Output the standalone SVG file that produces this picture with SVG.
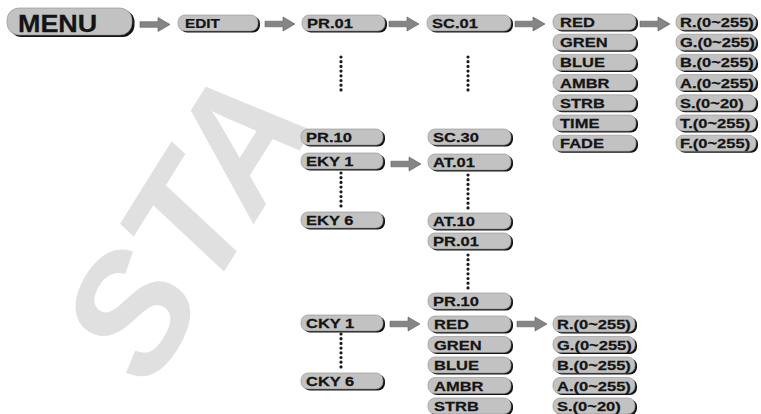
<svg xmlns="http://www.w3.org/2000/svg" xmlns:xlink="http://www.w3.org/1999/xlink" width="761" height="414" viewBox="0 0 761 414">
<style>
.bg{fill:#c2c2c2;stroke:#8e8e8e;stroke-width:0.6}
.sh{fill:#141414}
.t{font-family:"Liberation Sans",Arial,sans-serif;font-weight:bold;font-size:13px;fill:#141414;stroke:#141414;stroke-width:0.25}
.dots{stroke:#1a1a1a;stroke-width:3.2;stroke-linecap:round;stroke-dasharray:0 4.7;fill:none}
.arr{fill:#858585;stroke:#5a5a5a;stroke-width:0.6}
.wm{font-family:"Liberation Sans",Arial,sans-serif;font-weight:bold;font-style:italic;font-size:165px;fill:#e0e0e0}
</style>
<defs>
<path id="arrow" class="arr" d="M0,-2.8 H18 V-7 L30,0 L18,7 V2.8 H0 Z"/>
</defs>
<rect width="761" height="414" fill="#ffffff"/>
<text class="wm" transform="translate(150 390) rotate(-58)">STA</text>

<g id="connectors">
<use xlink:href="#arrow" x="140" y="24.5"/>
<use xlink:href="#arrow" x="265" y="24"/>
<use xlink:href="#arrow" x="389" y="24"/>
<use xlink:href="#arrow" x="515" y="24"/>
<use xlink:href="#arrow" x="640" y="24"/>
<use xlink:href="#arrow" x="391" y="164"/>
<use xlink:href="#arrow" x="390" y="324"/>
<use xlink:href="#arrow" x="517" y="324"/>
<path class="dots" d="M341,57V90 M468,57V90 M341,173V207 M468,175V209 M468,255V290 M341,334V369"/>
</g>

<g id="menu"><rect class="sh" x="9.5" y="10" width="125" height="27" rx="12"/><rect class="bg" x="7" y="8" width="125" height="27" rx="12"/><text class="t" style="font-size:23px" transform="translate(18 32) scale(1.17 1)">MENU</text></g>
<g id="edit"><rect class="sh" x="180" y="16.5" width="80" height="16" rx="7"/><rect class="bg" x="178" y="15" width="80" height="16" rx="7"/><text class="t" transform="translate(185 28) scale(1.18 1)">EDIT</text></g>
<g id="pr01"><rect class="sh" x="304" y="16.5" width="83" height="16" rx="7"/><rect class="bg" x="302" y="15" width="83" height="16" rx="7"/><text class="t" transform="translate(307 28) scale(1.27 1)">PR.01</text></g>
<g id="sc01"><rect class="sh" x="429" y="16.5" width="84" height="16" rx="7"/><rect class="bg" x="427" y="15" width="84" height="16" rx="7"/><text class="t" transform="translate(432 28) scale(1.27 1)">SC.01</text></g>

<g id="red1"><rect class="sh" x="555" y="15.5" width="83" height="16" rx="7"/><rect class="bg" x="553" y="14" width="83" height="16" rx="7"/><text class="t" transform="translate(560 27) scale(1.27 1)">RED</text></g>
<g id="gren1"><rect class="sh" x="555" y="35.7" width="83" height="16" rx="7"/><rect class="bg" x="553" y="34.2" width="83" height="16" rx="7"/><text class="t" transform="translate(560 47.2) scale(1.27 1)">GREN</text></g>
<g id="blue1"><rect class="sh" x="555" y="55.9" width="83" height="16" rx="7"/><rect class="bg" x="553" y="54.4" width="83" height="16" rx="7"/><text class="t" transform="translate(560 67.4) scale(1.27 1)">BLUE</text></g>
<g id="ambr1"><rect class="sh" x="555" y="76.1" width="83" height="16" rx="7"/><rect class="bg" x="553" y="74.6" width="83" height="16" rx="7"/><text class="t" transform="translate(560 87.6) scale(1.27 1)">AMBR</text></g>
<g id="strb1"><rect class="sh" x="555" y="96.3" width="83" height="16" rx="7"/><rect class="bg" x="553" y="94.8" width="83" height="16" rx="7"/><text class="t" transform="translate(560 107.8) scale(1.27 1)">STRB</text></g>
<g id="time1"><rect class="sh" x="555" y="116.5" width="83" height="16" rx="7"/><rect class="bg" x="553" y="115" width="83" height="16" rx="7"/><text class="t" transform="translate(560 128) scale(1.27 1)">TIME</text></g>
<g id="fade1"><rect class="sh" x="555" y="136.7" width="83" height="16" rx="7"/><rect class="bg" x="553" y="135.2" width="83" height="16" rx="7"/><text class="t" transform="translate(560 148.2) scale(1.27 1)">FADE</text></g>

<g id="rval1"><rect class="sh" x="678" y="15.5" width="80" height="16" rx="7"/><rect class="bg" x="676" y="14" width="80" height="16" rx="7"/><text class="t" transform="translate(680 27) scale(1.27 1)">R.(0~255)</text></g>
<g id="gval1"><rect class="sh" x="678" y="35.7" width="80" height="16" rx="7"/><rect class="bg" x="676" y="34.2" width="80" height="16" rx="7"/><text class="t" transform="translate(680 47.2) scale(1.27 1)">G.(0~255)</text></g>
<g id="bval1"><rect class="sh" x="678" y="55.9" width="80" height="16" rx="7"/><rect class="bg" x="676" y="54.4" width="80" height="16" rx="7"/><text class="t" transform="translate(680 67.4) scale(1.27 1)">B.(0~255)</text></g>
<g id="aval1"><rect class="sh" x="678" y="76.1" width="80" height="16" rx="7"/><rect class="bg" x="676" y="74.6" width="80" height="16" rx="7"/><text class="t" transform="translate(680 87.6) scale(1.27 1)">A.(0~255)</text></g>
<g id="sval1"><rect class="sh" x="678" y="96.3" width="80" height="16" rx="7"/><rect class="bg" x="676" y="94.8" width="80" height="16" rx="7"/><text class="t" transform="translate(680 107.8) scale(1.27 1)">S.(0~20)</text></g>
<g id="tval1"><rect class="sh" x="678" y="116.5" width="80" height="16" rx="7"/><rect class="bg" x="676" y="115" width="80" height="16" rx="7"/><text class="t" transform="translate(680 128) scale(1.27 1)">T.(0~255)</text></g>
<g id="fval1"><rect class="sh" x="678" y="136.7" width="80" height="16" rx="7"/><rect class="bg" x="676" y="135.2" width="80" height="16" rx="7"/><text class="t" transform="translate(680 148.2) scale(1.27 1)">F.(0~255)</text></g>

<g id="pr10a"><rect class="sh" x="303" y="130.5" width="82" height="16" rx="7"/><rect class="bg" x="301" y="129" width="82" height="16" rx="7"/><text class="t" transform="translate(306 142) scale(1.27 1)">PR.10</text></g>
<g id="eky1"><rect class="sh" x="303" y="154.5" width="82" height="16" rx="7"/><rect class="bg" x="301" y="153" width="82" height="16" rx="7"/><text class="t" transform="translate(306 166) scale(1.27 1)">EKY 1</text></g>
<g id="eky6"><rect class="sh" x="303" y="213.5" width="82" height="16" rx="7"/><rect class="bg" x="301" y="212" width="82" height="16" rx="7"/><text class="t" transform="translate(306 225) scale(1.27 1)">EKY 6</text></g>
<g id="cky1"><rect class="sh" x="303" y="316.5" width="82" height="16" rx="7"/><rect class="bg" x="301" y="315" width="82" height="16" rx="7"/><text class="t" transform="translate(306 328) scale(1.27 1)">CKY 1</text></g>
<g id="cky6"><rect class="sh" x="303" y="374.5" width="82" height="16" rx="7"/><rect class="bg" x="301" y="373" width="82" height="16" rx="7"/><text class="t" transform="translate(306 386) scale(1.27 1)">CKY 6</text></g>

<g id="sc30"><rect class="sh" x="430" y="130.5" width="83" height="16" rx="7"/><rect class="bg" x="428" y="129" width="83" height="16" rx="7"/><text class="t" transform="translate(433 142) scale(1.27 1)">SC.30</text></g>
<g id="at01"><rect class="sh" x="430" y="155.5" width="83" height="16" rx="7"/><rect class="bg" x="428" y="154" width="83" height="16" rx="7"/><text class="t" transform="translate(433 167) scale(1.27 1)">AT.01</text></g>
<g id="at10"><rect class="sh" x="430" y="214.5" width="83" height="16" rx="7"/><rect class="bg" x="428" y="213" width="83" height="16" rx="7"/><text class="t" transform="translate(433 226) scale(1.27 1)">AT.10</text></g>
<g id="pr01b"><rect class="sh" x="430" y="234.5" width="83" height="16" rx="7"/><rect class="bg" x="428" y="233" width="83" height="16" rx="7"/><text class="t" transform="translate(433 246) scale(1.27 1)">PR.01</text></g>
<g id="pr10b"><rect class="sh" x="430" y="294.5" width="83" height="16" rx="7"/><rect class="bg" x="428" y="293" width="83" height="16" rx="7"/><text class="t" transform="translate(433 306) scale(1.27 1)">PR.10</text></g>
<g id="red2"><rect class="sh" x="430" y="317.5" width="83" height="16" rx="7"/><rect class="bg" x="428" y="316" width="83" height="16" rx="7"/><text class="t" transform="translate(434 329) scale(1.27 1)">RED</text></g>
<g id="gren2"><rect class="sh" x="430" y="338" width="83" height="16" rx="7"/><rect class="bg" x="428" y="336.5" width="83" height="16" rx="7"/><text class="t" transform="translate(434 349.5) scale(1.27 1)">GREN</text></g>
<g id="blue2"><rect class="sh" x="430" y="358.5" width="83" height="16" rx="7"/><rect class="bg" x="428" y="357" width="83" height="16" rx="7"/><text class="t" transform="translate(434 370) scale(1.27 1)">BLUE</text></g>
<g id="ambr2"><rect class="sh" x="430" y="379" width="83" height="16" rx="7"/><rect class="bg" x="428" y="377.5" width="83" height="16" rx="7"/><text class="t" transform="translate(434 390.5) scale(1.27 1)">AMBR</text></g>
<g id="strb2"><rect class="sh" x="430" y="399.5" width="83" height="16" rx="7"/><rect class="bg" x="428" y="398" width="83" height="16" rx="7"/><text class="t" transform="translate(434 411) scale(1.27 1)">STRB</text></g>

<g id="rval2"><rect class="sh" x="555" y="317.5" width="82" height="16" rx="7"/><rect class="bg" x="553" y="316" width="82" height="16" rx="7"/><text class="t" transform="translate(557 329) scale(1.27 1)">R.(0~255)</text></g>
<g id="gval2"><rect class="sh" x="555" y="338" width="82" height="16" rx="7"/><rect class="bg" x="553" y="336.5" width="82" height="16" rx="7"/><text class="t" transform="translate(557 349.5) scale(1.27 1)">G.(0~255)</text></g>
<g id="bval2"><rect class="sh" x="555" y="358.5" width="82" height="16" rx="7"/><rect class="bg" x="553" y="357" width="82" height="16" rx="7"/><text class="t" transform="translate(557 370) scale(1.27 1)">B.(0~255)</text></g>
<g id="aval2"><rect class="sh" x="555" y="379" width="82" height="16" rx="7"/><rect class="bg" x="553" y="377.5" width="82" height="16" rx="7"/><text class="t" transform="translate(557 390.5) scale(1.27 1)">A.(0~255)</text></g>
<g id="sval2"><rect class="sh" x="555" y="399.5" width="82" height="16" rx="7"/><rect class="bg" x="553" y="398" width="82" height="16" rx="7"/><text class="t" transform="translate(557 411) scale(1.27 1)">S.(0~20)</text></g>
</svg>
